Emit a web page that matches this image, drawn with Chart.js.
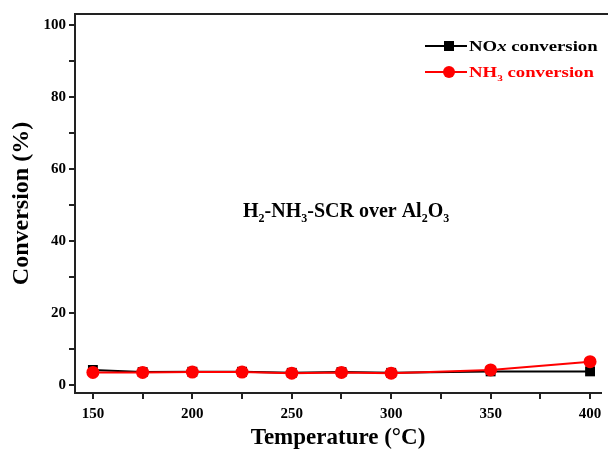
<!DOCTYPE html>
<html><head><meta charset="utf-8">
<script src="https://cdn.jsdelivr.net/npm/chart.js@4/dist/chart.umd.min.js"></script>
<style>html,body{margin:0;padding:0;background:#fff;}#wrap{width:608px;height:461px;}</style>
</head><body><div id="wrap"><canvas id="c" width="608" height="461"></canvas></div>
<script>
const temperatures = [150, 175, 200, 225, 250, 275, 300, 350, 400];
const noxConversion = [4.2, 3.6, 3.7, 3.7, 3.4, 3.6, 3.4, 3.8, 3.8];
const nh3Conversion = [3.5, 3.5, 3.6, 3.6, 3.3, 3.5, 3.3, 4.2, 6.5];
const xTickValues = [150, 175, 200, 225, 250, 275, 300, 325, 350, 375, 400];
const xLabelValues = [150, 200, 250, 300, 350, 400];
const yTickValues = [0, 10, 20, 30, 40, 50, 60, 70, 80, 90, 100];
const yLabelValues = [0, 20, 40, 60, 80, 100];

const FONT = "'Liberation Serif', 'Times New Roman', serif";

function pts(xs, ys){ return xs.map((x,i)=>({x:x, y:ys[i]})); }

function drawRuns(ctx, x, y, runs, color, stretch){
  stretch = stretch || 1;
  ctx.save();
  ctx.translate(x, y);
  ctx.scale(stretch, 1);
  ctx.fillStyle = color;
  ctx.textBaseline = 'alphabetic';
  ctx.textAlign = 'left';
  let cx = 0;
  for (const r of runs){
    ctx.font = (r.italic ? 'italic ' : '') + 'bold ' + r.size + 'px ' + FONT;
    ctx.fillText(r.t, cx, (r.dy||0));
    cx += ctx.measureText(r.t).width;
  }
  ctx.restore();
}

const overlay = {
  id: 'overlay',
  afterDraw(chart){
    const ctx = chart.ctx, a = chart.chartArea;
    ctx.save();
    ctx.strokeStyle = '#222';
    ctx.lineWidth = 2;
    ctx.beginPath();
    ctx.moveTo(a.left, a.top);
    ctx.lineTo(chart.width, a.top);
    ctx.stroke();
    ctx.restore();

    const lx0 = a.left + 350, lx1 = a.left + 392, mx = a.left + 374;
    const rows = [
      {y: a.top + 32, color: '#000', style: 'rect', runs: [{t:'NO',size:15},{t:'x',size:15,italic:true},{t:' conversion',size:15}]},
      {y: a.top + 58, color: '#ff0000', style: 'circle', runs: [{t:'NH',size:15},{t:'3',size:9,dy:4},{t:' conversion',size:15}]}
    ];
    for (const r of rows){
      ctx.save();
      ctx.strokeStyle = r.color; ctx.lineWidth = 2;
      ctx.beginPath(); ctx.moveTo(lx0, r.y); ctx.lineTo(lx1, r.y); ctx.stroke();
      ctx.fillStyle = r.color;
      if (r.style === 'rect') { ctx.fillRect(mx-5, r.y-5, 10, 10); }
      else { ctx.beginPath(); ctx.arc(mx, r.y, 6, 0, Math.PI*2); ctx.fill(); }
      ctx.restore();
      drawRuns(ctx, lx1 + 2, r.y + 5, r.runs, r.color, 1.25);
    }

    drawRuns(ctx, a.left + 168, a.top + 203, [
      {t:'H',size:20},{t:'2',size:12,dy:5},{t:'-NH',size:20},{t:'3',size:12,dy:5},
      {t:'-SCR over Al',size:20},{t:'2',size:12,dy:5},{t:'O',size:20},{t:'3',size:12,dy:5}
    ], '#000', 1);
  }
};

new Chart(document.getElementById('c'), {
  type: 'line',
  data: {
    datasets: [
      {label: 'NOx conversion', data: pts(temperatures, noxConversion), borderColor: '#000', backgroundColor: '#000',
       borderWidth: 2, pointStyle: 'rect', pointRadius: 7, pointBorderWidth: 0, tension: 0, order: 1},
      {label: 'NH3 conversion', data: pts(temperatures, nh3Conversion), borderColor: '#ff0000', backgroundColor: '#ff0000',
       borderWidth: 2, pointStyle: 'circle', pointRadius: 6.5, pointBorderWidth: 0, tension: 0, order: 0}
    ]
  },
  options: {
    responsive: false,
    animation: false,
    layout: {padding: {top: 14, right: 0, left: 0, bottom: 0}},
    plugins: {legend: {display: false}, tooltip: {enabled: false}},
    scales: {
      x: {
        type: 'linear', min: 141, max: 405.5,
        afterBuildTicks(s){ s.ticks = xTickValues.map(v=>({value:v})); },
        afterFit(s){ s.height = 68; },
        border: {display: true, color: '#222', width: 2},
        grid: {display: true, drawOnChartArea: false, drawTicks: true, tickLength: 6, color: '#222', lineWidth: 2},
        ticks: {color: '#000', font: {family: FONT, size: 15, weight: 'bold'}, padding: 6, maxRotation: 0, autoSkip: false,
          callback: (v)=> xLabelValues.includes(v) ? String(v) : ''},
        title: {display: true, text: 'Temperature (°C)', color: '#000', font: {family: FONT, size: 23, weight: 'bold'}, padding: {top: 0, bottom: 9}}
      },
      y: {
        type: 'linear', min: -2.2, max: 103,
        afterBuildTicks(s){ s.ticks = yTickValues.map(v=>({value:v})); },
        afterFit(s){ s.width = 75; },
        border: {display: true, color: '#222', width: 2},
        grid: {display: true, drawOnChartArea: false, drawTicks: true, tickLength: 6, color: '#222', lineWidth: 2},
        ticks: {color: '#000', font: {family: FONT, size: 15, weight: 'bold'}, padding: 3, autoSkip: false,
          callback: (v)=> yLabelValues.includes(v) ? String(v) : ''},
        title: {display: true, text: 'Conversion (%)', color: '#000', font: {family: FONT, size: 24, weight: 'bold'}, padding: {top: 7, bottom: 2}}
      }
    }
  },
  plugins: [overlay]
});
</script></body></html>
